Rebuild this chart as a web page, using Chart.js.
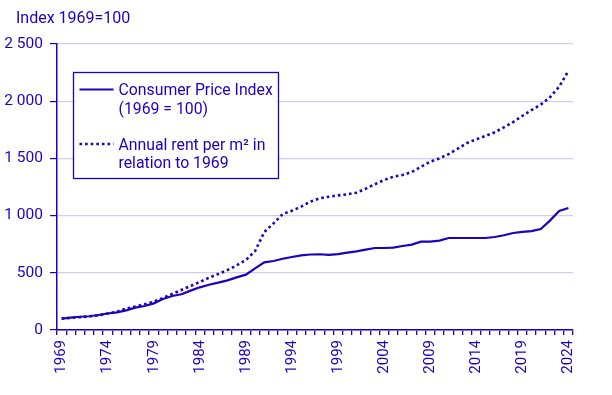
<!DOCTYPE html>
<html>
<head>
<meta charset="utf-8">
<script src="https://cdn.jsdelivr.net/npm/chart.js@4"></script>
<style>
  html, body { margin: 0; padding: 0; background: #fff; }
  #wrap { width: 612px; height: 395px; }
</style>
</head>
<body>
<div id="wrap"><canvas id="myChart" width="612" height="395"></canvas></div>
<script>
// Data
var years = [1969, 1970, 1971, 1972, 1973, 1974, 1975, 1976, 1977, 1978,
    1979, 1980, 1981, 1982, 1983, 1984, 1985, 1986, 1987, 1988,
    1989, 1990, 1991, 1992, 1993, 1994, 1995, 1996, 1997, 1998,
    1999, 2000, 2001, 2002, 2003, 2004, 2005, 2006, 2007, 2008,
    2009, 2010, 2011, 2012, 2013, 2014, 2015, 2016, 2017, 2018,
    2019, 2020, 2021, 2022, 2023, 2024];

var cpi = [100, 108, 116, 120, 131, 144, 154, 172, 196, 210,
    233, 271, 297, 312, 344, 373, 396, 414, 434, 460,
    484, 539, 591, 603, 623, 638, 653, 660, 662, 656,
    664, 676, 688, 702, 717, 717, 720, 734, 746, 772,
    772, 781, 804, 804, 804, 804, 804, 813, 828, 848,
    857, 865, 883, 956, 1040, 1066];

var rent = [100, 106, 112, 119, 128, 145, 160, 187, 205, 225,
    248, 280, 315, 350, 385, 420, 457, 490, 524, 565,
    612, 690, 857, 932, 1014, 1043, 1078, 1122, 1151, 1165,
    1177, 1186, 1200, 1235, 1274, 1311, 1340, 1355, 1381, 1427,
    1471, 1500, 1538, 1585, 1635, 1667, 1696, 1728, 1772, 1818,
    1871, 1923, 1970, 2034, 2127, 2264];

var seriesNames = [
    ['Consumer Price Index', '(1969 = 100)'],
    ['Annual rent per m\u00b2 in', 'relation to 1969']
];
var yTitle = 'Index 1969=100';
var yTicks = [0, 500, 1000, 1500, 2000, 2500];

var blue = '#1e00be';
var gridColor = '#cfcdf2';
var fontFamily = 'Roboto, "Liberation Sans", Arial, sans-serif';

function fmt(v) {
    // thousands with a space, Swedish style
    return String(v).replace(/\B(?=(\d{3})+(?!\d))/g, ' ');
}

// legend box + title drawn by hand
var boxLegend = {
    id: 'boxLegend',
    afterDraw: function (chart) {
        var c = chart.ctx;
        var area = chart.chartArea;
        c.save();
        c.fillStyle = blue;
        c.font = '16px ' + fontFamily;
        c.textBaseline = 'alphabetic';
        c.textAlign = 'left';
        c.fillText(yTitle, area.left - 41, 23);

        var bx = area.left + 16.5, by = 72.5, bw = 205, bh = 106;
        c.fillStyle = '#fff';
        c.fillRect(bx, by, bw, bh);
        c.strokeStyle = blue;
        c.lineWidth = 1.3;
        c.strokeRect(bx, by, bw, bh);

        c.font = '15.8px ' + fontFamily;
        var rows = [89.5, 144];
        chart.data.datasets.forEach(function (ds, i) {
            var y = rows[i];
            c.beginPath();
            c.strokeStyle = ds.borderColor;
            c.lineWidth = ds.borderWidth;
            c.setLineDash(ds.borderDash || []);
            c.moveTo(bx + 6, y);
            c.lineTo(bx + 40, y);
            c.stroke();
            c.setLineDash([]);
            c.fillStyle = blue;
            ds.label.forEach(function (line, j) {
                c.fillText(line, bx + 45, y + 5.5 + j * 18.5);
            });
        });
        c.restore();
    }
};

const ctx = document.getElementById('myChart').getContext('2d');
const config = {
    type: 'line',
    data: {
        labels: years,
        datasets: [{
            label: seriesNames[0],
            data: cpi,
            borderColor: blue,
            borderWidth: 2.2,
            pointRadius: 0,
            tension: 0,
            fill: false
        }, {
            label: seriesNames[1],
            data: rent,
            borderColor: blue,
            borderWidth: 2.6,
            borderDash: [2.6, 3],
            pointRadius: 0,
            tension: 0,
            fill: false
        }]
    },
    options: {
        responsive: false,
        animation: false,
        layout: {
            padding: { top: 44, right: 39, left: 0, bottom: 0 }
        },
        plugins: {
            legend: { display: false },
            tooltip: { enabled: false }
        },
        scales: {
            x: {
                type: 'category',
                offset: true,
                border: { color: blue, width: 1.5 },
                grid: {
                    offset: true,
                    drawOnChartArea: false,
                    drawTicks: true,
                    tickLength: 5,
                    color: blue,
                    lineWidth: 1.3
                },
                ticks: {
                    autoSkip: false,
                    minRotation: 90,
                    maxRotation: 90,
                    padding: 5,
                    color: blue,
                    font: { family: fontFamily, size: 15 },
                    callback: function (val, idx) {
                        var yr = years[idx];
                        return (yr - years[0]) % 5 === 0 ? String(yr) : '';
                    }
                },
                afterFit: function (scale) { scale.height = 65; }
            },
            y: {
                min: 0,
                max: 2500,
                border: { color: blue, width: 1.5 },
                grid: {
                    color: gridColor,
                    lineWidth: 1.2,
                    drawTicks: true,
                    tickLength: 7,
                    tickColor: blue
                },
                afterBuildTicks: function (scale) {
                    scale.ticks = yTicks.map(function (v) { return { value: v }; });
                },
                ticks: {
                    padding: 7,
                    color: blue,
                    font: { family: fontFamily, size: 15.5 },
                    callback: function (v) { return fmt(v); }
                },
                afterFit: function (scale) { scale.width = 57; }
            }
        }
    },
    plugins: [boxLegend]
};

const myChart = new Chart(ctx, config);
</script>
</body>
</html>
